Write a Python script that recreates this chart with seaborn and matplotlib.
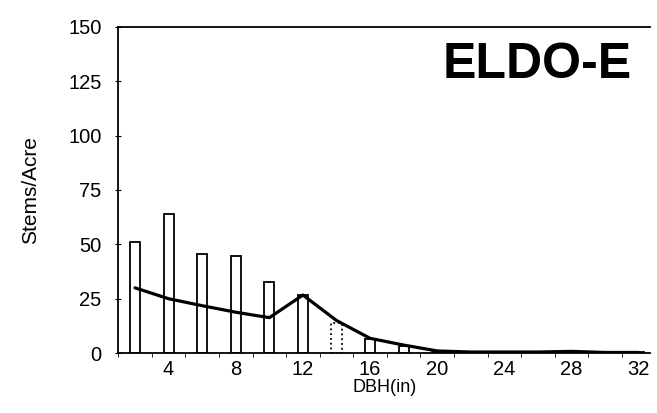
import matplotlib
matplotlib.use('Agg')
import matplotlib.pyplot as plt
import seaborn as sns
import pandas as pd

# diameter classes (in) and stems per acre
dbh = [2, 4, 6, 8, 10, 12, 14, 16, 18, 20, 22, 24, 26, 28, 30, 32]
observed = [51, 64, 45.5, 44.5, 32.5, 26.5, 14, 6.5, 3.5, 0.5, 0.5, 0.5, 0.5, 1, 0.3, 0.3]
predicted = [30, 25, 21.8, 18.8, 16.3, 26.7, 15, 6.8, 3.7, 1, 0.5, 0.5, 0.5, 0.8, 0.3, 0.3]
x_labels = [4, 8, 12, 16, 20, 24, 28, 32]
y_ticks = [0, 25, 50, 75, 100, 125, 150]

df = pd.DataFrame({'dbh': dbh, 'observed': observed, 'predicted': predicted})

sns.set_style('ticks')
plt.rcParams['font.family'] = ['Liberation Sans', 'DejaVu Sans']
plt.rcParams.update({'text.color': 'black', 'axes.labelcolor': 'black',
                     'xtick.color': 'black', 'ytick.color': 'black'})

fig = plt.figure(figsize=(6.57, 4.13), dpi=100)
ax = fig.add_axes([0.18, 0.145, 0.81, 0.79])

sns.barplot(data=df, x='dbh', y='observed', native_scale=True, width=0.3,
            color='white', edgecolor='black', linewidth=1.3, ax=ax)
# the 14" class is drawn with a dotted outline
for patch, d in zip(ax.patches, dbh):
    if d == 14:
        patch.set_linestyle(':')

sns.lineplot(data=df, x='dbh', y='predicted', color='black', linewidth=2.3, ax=ax)

ax.set_xlim(1.2, 32.7)
ax.set_ylim(0, 150)
ax.set_yticks(y_ticks)
ax.set_xticks(x_labels)
ax.set_xticks(range(1, 33, 2), minor=True)
ax.tick_params(axis='x', which='major', length=0, labelsize=14.5, pad=5)
ax.tick_params(axis='x', which='minor', length=3, direction='out')
ax.tick_params(axis='y', length=4, direction='inout', labelsize=14.5, pad=10)

ax.set_xlabel('DBH(in)', fontsize=13, labelpad=0)
ax.set_ylabel('Stems/Acre', fontsize=15, labelpad=20)

ax.spines['right'].set_visible(False)
for side in ['top', 'left', 'bottom']:
    ax.spines[side].set_linewidth(1.3)
    ax.spines[side].set_color('black')

ax.text(0.965, 0.955, 'ELDO-E', transform=ax.transAxes, ha='right', va='top',
        fontsize=36, fontweight='bold', color='black')

fig.savefig('out.png', dpi=100)
